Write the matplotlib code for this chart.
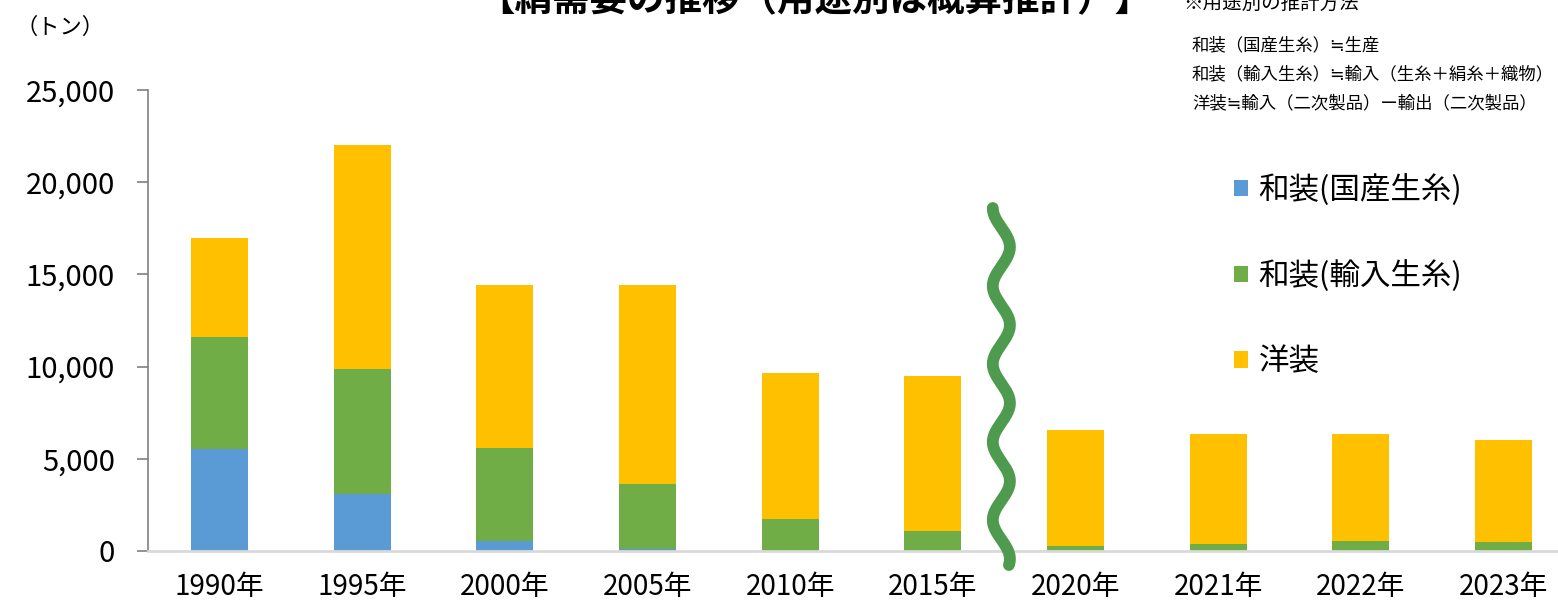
import numpy as np
import matplotlib
matplotlib.use("Agg")
import matplotlib.pyplot as plt

plt.rcParams['font.family'] = ['Noto Sans CJK JP', 'DejaVu Sans']

# データ (トン)
years = ['1990年', '1995年', '2000年', '2005年', '2010年', '2015年',
         '2020年', '2021年', '2022年', '2023年']
wasou_kokusan = [5550, 3100, 550, 130, 0, 0, 0, 0, 0, 0]
wasou_yunyu = [6050, 6750, 5050, 3520, 1740, 1080, 290, 360, 540, 470]
yousou = [5400, 12150, 8850, 10800, 7910, 8410, 6270, 5970, 5790, 5550]

labels = ['和装(国産生糸)', '和装(輸入生糸)', '洋装']
colors = ['#5B9BD5', '#70AD47', '#FFC000']

fig = plt.figure(figsize=(15.58, 6.0), dpi=100)
ax = fig.add_axes([148 / 1558, 49 / 600, 1427 / 1558, 461 / 600])

x = np.arange(len(years))
w = 0.4
b1 = np.array(wasou_kokusan)
b2 = b1 + np.array(wasou_yunyu)
ax.bar(x, wasou_kokusan, w, color=colors[0], label=labels[0])
ax.bar(x, wasou_yunyu, w, bottom=b1, color=colors[1], label=labels[1])
ax.bar(x, yousou, w, bottom=b2, color=colors[2], label=labels[2])

ax.set_xlim(-0.5, len(years) - 0.5)
ax.set_ylim(0, 25000)
ax.set_yticks(range(0, 25001, 5000))
ax.set_yticklabels([f'{v:,}' for v in range(0, 25001, 5000)], fontsize=21)
ax.set_xticks(x)
ax.set_xticklabels(years, fontsize=20)
ax.tick_params(axis='x', length=0, pad=15)
ax.tick_params(axis='y', length=8, width=1.2, color='#808080', pad=16)

for s in ['top', 'right']:
    ax.spines[s].set_visible(False)
ax.spines['left'].set_color('#808080')
ax.spines['left'].set_linewidth(1.2)
ax.spines['bottom'].set_color('#D9D9D9')
ax.spines['bottom'].set_linewidth(2)

# 波線 (省略記号)
yy = np.linspace(18600, -760, 400)
xx = 5.48 - 0.06 * np.cos(2 * np.pi * (18600 - yy) / 4230)
ax.plot(xx, yy, color='#4E9A4E', lw=8.5, solid_capstyle='round', clip_on=False, zorder=5)

fig.legend(loc='upper left', bbox_to_anchor=(1234 / 1558, 1 - 174 / 600),
           frameon=False, fontsize=22, handlelength=0.45, handleheight=0.45,
           handletextpad=0.35, labelspacing=1.78, borderaxespad=0, borderpad=0)

fig.text(60 / 1558, 1 - 27 / 600, '（トン）', fontsize=16, ha='center', va='center')
fig.text(815 / 1558, 1.0, '【絹需要の推移（用途別は概算推計）】', fontsize=27,
         fontweight='bold', ha='center', va='center')
fig.text(1183 / 1558, 1 - 3 / 600, '※用途別の推計方法', fontsize=14, ha='left', va='center')
notes = ['和装（国産生糸）≒生産',
         '和装（輸入生糸）≒輸入（生糸＋絹糸＋織物）',
         '洋装≒輸入（二次製品）ー輸出（二次製品）']
for i, t in enumerate(notes):
    fig.text(1192 / 1558, 1 - (45 + 29 * i) / 600, t, fontsize=12.5, ha='left', va='center')

fig.savefig('out.png', dpi=100)
